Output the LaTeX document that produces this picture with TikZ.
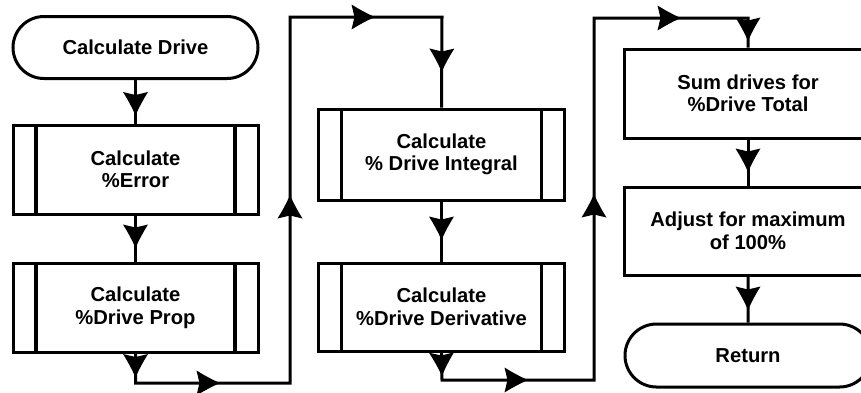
\documentclass[tikz,border=0pt]{standalone}
\usepackage{fontspec}
\setmainfont{Liberation Sans}
\usetikzlibrary{decorations.markings,shapes.misc}
\newcommand\myhead{\fill (0.5,0) .. controls (-7,3.2) and (-15,7.5) .. (-23,12.5) -- (-20,0) -- (-23,-12.5) .. controls (-15,-7.5) and (-7,-3.2) .. (0.5,0) -- cycle;}
\tikzset{
  base/.style={draw, line width=3pt, inner sep=0pt, align=center,
    font=\bfseries\fontsize{20.2}{22.5}\selectfont},
  term/.style={base, rounded rectangle, minimum width=245pt, minimum height=62pt},
  pbox/.style={base, rectangle, minimum width=245pt, minimum height=89pt,
    path picture={
      \draw[line width=3.2pt]
        ([xshift=23pt]path picture bounding box.north west) -- ([xshift=23pt]path picture bounding box.south west)
        ([xshift=-23pt]path picture bounding box.north east) -- ([xshift=-23pt]path picture bounding box.south east);}},
  sbox/.style={base, rectangle, minimum width=248pt, minimum height=89pt},
  conn/.style={line width=3pt},
}
\begin{document}
\begin{tikzpicture}[x=1pt,y=-1pt]
\useasboundingbox (0,0) rectangle (861,392);
\clip (0,0) rectangle (861,392);
\fill[white] (0,0) rectangle (861,392);
% column 1
\node[term] (t0) at (135.5,47.5) {Calculate Drive};
\node[pbox] (b1) at (135.5,169.5) {Calculate\\\%Error};
\node[pbox] (b2) at (135.5,308) {Calculate\\\%Drive Prop};
% column 2
\node[pbox, minimum height=91pt, minimum width=246pt] (b3) at (441.5,154.5) {Calculate\\\% Drive Integral};
\node[pbox, minimum height=88pt, minimum width=246pt] (b4) at (441.5,307) {Calculate\\\%Drive Derivative};
% column 3
\node[sbox] (b5) at (748,93.5) {Sum drives for\\\%Drive Total};
\node[sbox, minimum height=88pt] (b6) at (748,231) {Adjust for maximum\\of 100\%};
\node[term, minimum width=246pt, minimum height=63pt] (t1) at (748,355.5) {Return};
% corner coordinates
\coordinate (a1) at (135.5,383);
\coordinate (a2) at (290,383);
\coordinate (a3) at (290,17);
\coordinate (a4) at (442,17);
\coordinate (c1) at (442,380);
\coordinate (c2) at (594,380);
\coordinate (c3) at (594,18);
\coordinate (c4) at (748,18);
% connectors
\draw[conn, decoration={markings, mark=at position 35pt with {\myhead}}, postaction=decorate] (t0) -- (b1);
\draw[conn, decoration={markings, mark=at position 32pt with {\myhead}}, postaction=decorate] (b1) -- (b2);
\draw[conn, decoration={markings,
   mark=at position 23pt with {\myhead},
   mark=at position 113pt with {\myhead},
   mark=at position 371pt with {\myhead},
   mark=at position 634pt with {\myhead},
   mark=at position 756pt with {\myhead}}, postaction=decorate]
   (b2.south) -- (a1) -- (a2) -- (a3) -- (a4) -- (b3.north);
\draw[conn, decoration={markings, mark=at position 38pt with {\myhead}}, postaction=decorate] (b3) -- (b4);
\draw[conn, decoration={markings,
   mark=at position 23pt with {\myhead},
   mark=at position 113pt with {\myhead},
   mark=at position 365pt with {\myhead},
   mark=at position 628pt with {\myhead},
   mark=at position 718pt with {\myhead}}, postaction=decorate]
   (b4.south) -- (c1) -- (c2) -- (c3) -- (c4) -- (b5.north);
\draw[conn, decoration={markings, mark=at position 32pt with {\myhead}}, postaction=decorate] (b5) -- (b6);
\draw[conn, decoration={markings, mark=at position 33pt with {\myhead}}, postaction=decorate] (b6) -- (t1);
\end{tikzpicture}
\end{document}
